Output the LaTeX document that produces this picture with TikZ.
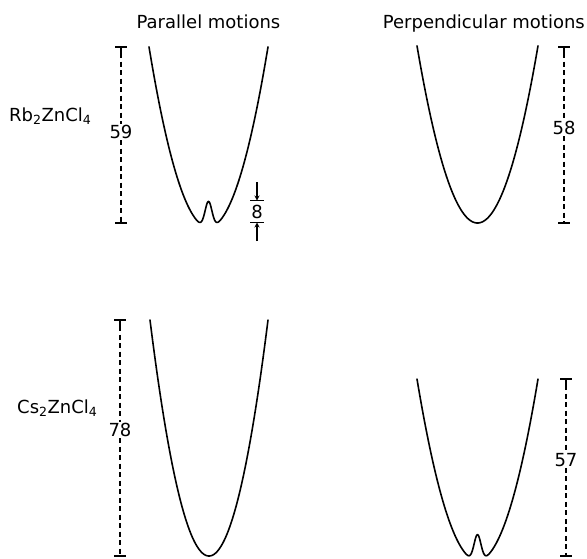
\documentclass[tikz,border=0pt]{standalone}
\usepackage{fontspec}
\setmainfont{DejaVu Sans}
\usetikzlibrary{arrows.meta}
\tikzset{
  curve/.style={line width=1.6pt, line join=round, line cap=round},
  dimline/.style={line width=1.1pt, dash pattern=on 5pt off 3.5pt},
  tickbar/.style={line width=1.3pt},
  lbl/.style={font=\fontsize{18}{21}\selectfont, inner sep=0pt},
  numlbl/.style={font=\fontsize{18}{21}\selectfont, fill=white, inner sep=1pt},
}
\newcommand{\dimmark}[5]{% name, x, ytop, ybot, label position and text
  \coordinate (#1t) at (#2,#3);
  \coordinate (#1b) at (#2,#4);
  \draw[tickbar] ([xshift=-6pt]#1t) -- ([xshift=6pt]#1t);
  \draw[tickbar] ([xshift=-6pt]#1b) -- ([xshift=6pt]#1b);
  \draw[line width=1.1pt] (#1t) -- ++(0,6);
  \node[numlbl] (#1l) at #5;
  \draw[dimline] ([yshift=-6pt]#1t) -- (#1l.north);
  \draw[dimline] (#1l.south) -- (#1b);
}
\begin{document}
\begin{tikzpicture}[x=1pt,y=-1pt]
\useasboundingbox (0,0) rectangle (587,558);

% headings
\node[lbl, anchor=base] (hpar) at (208.5,28) {Parallel motions};
\node[lbl, anchor=base east] (hperp) at (585,28) {Perpendicular motions};

% compound labels
\node[lbl, anchor=west] (rb) at (9,116) {Rb\textsubscript{2}ZnCl\textsubscript{4}};
\node[lbl, anchor=west] (cs) at (17,408) {Cs\textsubscript{2}ZnCl\textsubscript{4}};

% curves
\draw[curve] plot[domain=-59.5:59.5, samples=220, smooth]
  ({208.5+\x}, {222.8 - (0.051*\x*\x + 26*exp(-\x*\x/24) - 4.6)});
\draw[curve] plot[domain=-60.5:60.5, samples=150, smooth]
  ({477.5+\x}, {223 - 0.0484*\x*\x});
\draw[curve] plot[domain=-59:59, samples=150, smooth]
  ({209+\x}, {556 - 0.0678*\x*\x});
\draw[curve] plot[domain=-60.5:60.5, samples=220, smooth]
  ({477.5+\x}, {556 - (0.0496*\x*\x + 26*exp(-\x*\x/24) - 4.6)});

% dimension lines
\dimmark{d59}{121}{47}{223}{(121,132) {59}}
\dimmark{d58}{564}{47}{223}{(564,128) {58}}
\dimmark{d78}{120}{320}{556}{(120,430) {78}}
\dimmark{d57}{566}{379}{556}{(566,460) {57}}

% small 8 marker
\coordinate (e1) at (257,182);
\coordinate (e2) at (257,200.5);
\coordinate (e3) at (257,222.5);
\coordinate (e4) at (257,241);
\draw[tickbar] ([xshift=-7pt]e2) -- ([xshift=7pt]e2);
\draw[tickbar] ([xshift=-7pt]e3) -- ([xshift=7pt]e3);
\draw[line width=1.1pt, -{Stealth[length=5pt,width=5pt]}] (e1) -- (e2);
\draw[line width=1.1pt, -{Stealth[length=5pt,width=5pt]}] (e4) -- (e3);
\node[lbl] (eight) at (257,212) {8};
\end{tikzpicture}
\end{document}
